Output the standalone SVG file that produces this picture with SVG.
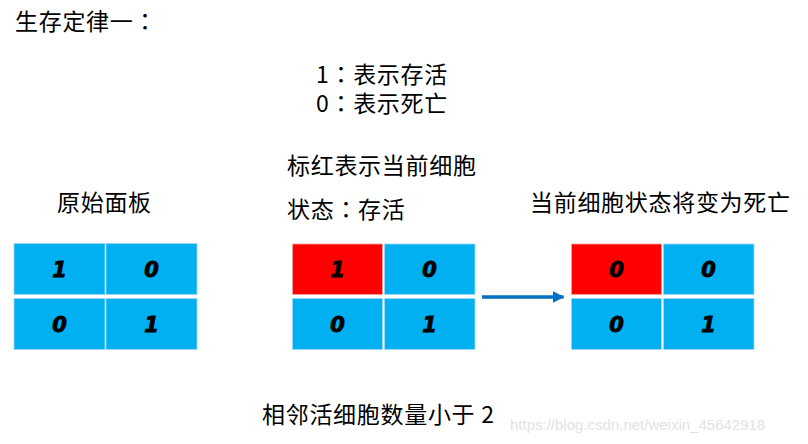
<svg xmlns="http://www.w3.org/2000/svg" width="808" height="444" viewBox="0 0 808 444">
<defs>
<style>
.t{font-family:"Microsoft YaHei","Noto Sans CJK SC",sans-serif;font-size:23px;fill:#000;letter-spacing:0.7px}
.c{font-family:"Noto Sans CJK TC",sans-serif}
.b{fill:#00B0F0;stroke:#9DD9F3;stroke-width:0.8}
.r{fill:#FF0000;stroke:#F4A0A0;stroke-width:0.8}
.d{font-family:"DejaVu Sans",sans-serif;font-style:italic;font-weight:bold;font-size:21px;fill:#000;stroke:#000;stroke-width:0.9;text-anchor:middle}
.w{font-family:"Liberation Sans",Arial,sans-serif;font-size:15px;fill:#E3E3E3}
</style>
<marker id="ah" markerWidth="12" markerHeight="12" refX="11" refY="6" orient="auto" markerUnits="userSpaceOnUse">
<path d="M0,0 L12,6 L0,12 Z" fill="#0070C0"/>
</marker>
</defs>

<g id="title"><text class="t" x="15" y="30">生存定律一<tspan class="c">：</tspan></text></g>
<g id="legend">
<text class="t" x="316" y="83">1<tspan class="c">：</tspan>表示存活</text>
<text class="t" x="316" y="112">0<tspan class="c">：</tspan>表示死亡</text>
</g>
<g id="label-left"><text class="t" x="57" y="211">原始面板</text></g>
<g id="label-mid">
<text class="t" x="287" y="174">标红表示当前细胞</text>
<text class="t" x="287" y="218">状态<tspan class="c">：</tspan>存活</text>
</g>
<g id="label-right"><text class="t" x="530" y="211">当前细胞状态将变为死亡</text></g>
<g id="caption"><text class="t" x="262" y="423">相邻活细胞数量小于 2</text></g>
<g id="watermark"><text class="w" x="510" y="430">https://blog.csdn.net/weixin_45642918</text></g>

<g id="grid-original">
<rect class="b" x="14" y="243.5" width="91" height="51"/>
<rect class="b" x="106" y="243.5" width="91" height="51"/>
<rect class="b" x="14" y="298.5" width="91" height="51"/>
<rect class="b" x="106" y="298.5" width="91" height="51"/>
<text class="d" x="59.5" y="277">1</text>
<text class="d" x="151.5" y="277">0</text>
<text class="d" x="59.5" y="331.5">0</text>
<text class="d" x="151.5" y="331.5">1</text>
</g>

<g id="grid-current">
<rect class="r" x="292.5" y="244" width="90" height="50.5"/>
<rect class="b" x="384.5" y="244" width="90.5" height="50.5"/>
<rect class="b" x="292.5" y="298.5" width="90" height="51"/>
<rect class="b" x="384.5" y="298.5" width="90.5" height="51"/>
<text class="d" x="337.5" y="277">1</text>
<text class="d" x="429.5" y="277">0</text>
<text class="d" x="337.5" y="331.5">0</text>
<text class="d" x="429.5" y="331.5">1</text>
</g>

<g id="grid-next">
<rect class="r" x="571.5" y="244" width="90" height="50.5"/>
<rect class="b" x="663.5" y="244" width="90.5" height="50.5"/>
<rect class="b" x="571.5" y="298.5" width="90" height="51"/>
<rect class="b" x="663.5" y="298.5" width="90.5" height="51"/>
<text class="d" x="616.5" y="277">0</text>
<text class="d" x="708.5" y="277">0</text>
<text class="d" x="616.5" y="331.5">0</text>
<text class="d" x="708.5" y="331.5">1</text>
</g>

<g id="connectors">
<line x1="482" y1="297" x2="563.5" y2="297" stroke="#0070C0" stroke-width="3.5" marker-end="url(#ah)"/>
</g>
</svg>
